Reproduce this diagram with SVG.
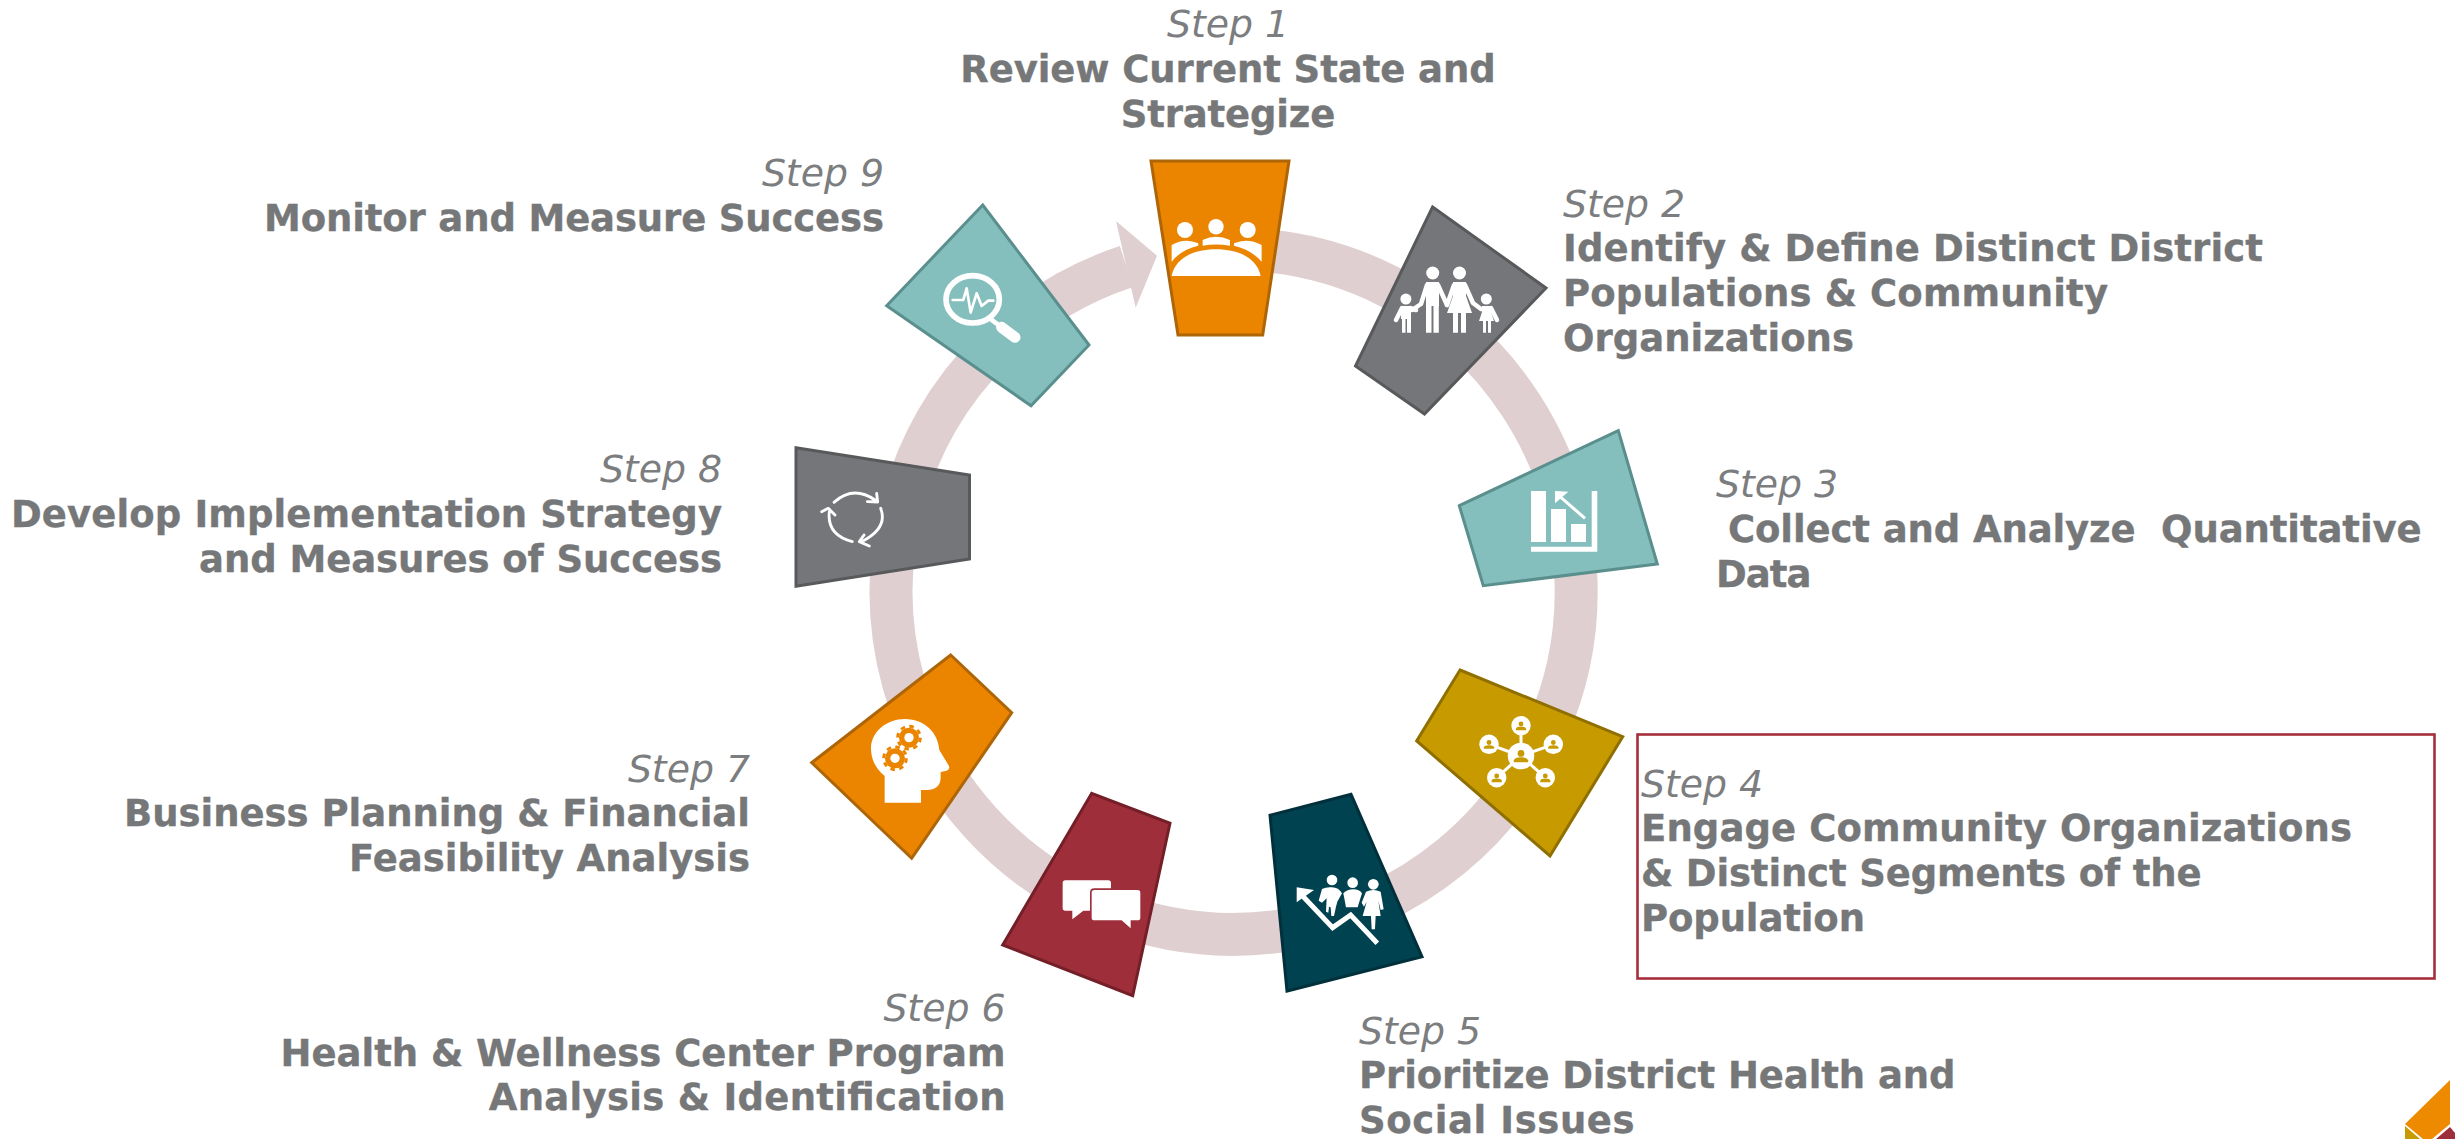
<svg xmlns="http://www.w3.org/2000/svg" width="2455" height="1139" viewBox="0 0 2455 1139">
<style>
text{font-family:"DejaVu Sans","Verdana",sans-serif;font-size:37px;fill:#767779}
.s{font-style:italic;font-weight:400;fill:#7C7D7F;font-size:37.8px}
.b{font-weight:700;stroke:#767779;stroke-width:.35}
.e{text-anchor:end}
.m{text-anchor:middle}
.n{stroke-width:3;stroke-linejoin:miter}
.or{fill:#EB8500;stroke:#AD6508}
.gy{fill:#757679;stroke:#58595B}
.te{fill:#84BFBE;stroke:#5A8F8E}
.go{fill:#C79A00;stroke:#8F6F00}
.dk{fill:#004250;stroke:#00303B}
.rd{fill:#9E2F3A;stroke:#741F28}
.w{fill:#fff;stroke:none}
.l{fill:none;stroke:#fff;stroke-linecap:round;stroke-linejoin:round}
.ls{fill:none;stroke:#fff;stroke-linecap:butt;stroke-linejoin:miter}
</style>
<defs>
<g id="per"><circle cx="0" cy="-6" r="8"/><path d="M-17 15V10Q-15 3 0 3Q15 3 17 10V15Z"/></g>
<g id="gear"><circle r="30" fill="#EB8500"/><circle r="34" fill="none" stroke="#EB8500" stroke-width="9" stroke-dasharray="13.5 13.2"/><circle r="14" fill="#fff"/></g>
</defs>
<g id="connectors">
<path d="M1234 249.3A342.5 342.5 0 1 1 1126.5 266.5" fill="none" stroke="#E0CFD0" stroke-width="43"/>
<polygon points="1116,221 1157,255.7 1135.7,307.7 1130.7,286 1121,243" fill="#E0CFD0"/>
</g>
<g id="node1">
<polygon class="n or" points="1151,161 1289,161 1262.7,335 1178,335"/>
<g class="w"><circle cx="1185" cy="230" r="8"/><circle cx="1216" cy="226.7" r="7.7"/><circle cx="1247.7" cy="230" r="8"/>
<g transform="translate(860 180) scale(.3333)"><path d="M935 245V195Q975 172 1015 190V197Q965 208 935 245Z"/><path d="M1028 197V180Q1068 160 1110 180V197Q1068 190 1028 197Z"/><path d="M1205 245V195Q1163 172 1122 190V197Q1172 208 1205 245Z"/><path d="M935 288C945 235 1000 208 1068 208C1136 208 1192 235 1202 288Z"/></g></g>
<text class="s m" x="1228" y="37">Step 1</text>
<text class="b m" x="1228" y="82" textLength="535.5">Review Current State and</text>
<text class="b m" x="1228" y="127" textLength="214.5">Strategize</text>
</g>
<g id="node2">
<polygon class="n gy" points="1432.6,207 1546,288 1424.5,414 1355.5,366"/>
<g class="w"><circle cx="1432.7" cy="273" r="6.5"/><circle cx="1459.5" cy="273" r="6.5"/><circle cx="1405.9" cy="299" r="5.5"/><circle cx="1486.3" cy="299" r="5.5"/>
<path d="M1426 282H1439V306H1438.8V332.7H1433.5V306H1431.5V332.7H1426Z"/>
<path d="M1453 282H1466V296L1472 313H1466V332.7H1461V313H1458V332.7H1453V313H1447L1453 296Z"/>
<path d="M1401 306H1411V332.7H1407V319H1405.5V332.7H1402V319H1401Z"/>
<path d="M1482 306H1491V312L1494 321H1491V332.7H1488V321H1486V332.7H1483V321H1479L1482 312Z"/></g>
<g class="l" stroke-width="4.5"><path d="M1427 285L1421 304L1412 310"/><path d="M1438 285L1447 305"/><path d="M1454 285L1447 305"/><path d="M1465 285L1473 303L1481 309"/><path d="M1402 308L1396 320"/><path d="M1410 308L1416 310"/><path d="M1491 308L1497 320"/></g>
<text class="s" x="1563" y="217">Step 2</text>
<text class="b" x="1563" y="261" textLength="700">Identify &amp; Define Distinct District</text>
<text class="b" x="1563" y="306" textLength="545">Populations &amp; Community</text>
<text class="b" x="1563" y="351" textLength="291">Organizations</text>
</g>
<g id="node3">
<polygon class="n te" points="1459.3,505.7 1618.3,430.7 1657.3,564 1483.3,585.7"/>
<g class="w"><rect x="1531" y="491" width="15" height="51"/><rect x="1551" y="509" width="15" height="33"/><rect x="1571" y="524" width="15" height="18"/><path d="M1591.7 491H1597.3V551.7H1531V546.7H1591.7Z"/><polygon points="1555,491 1568.3,491.7 1555,503.3"/></g>
<path class="ls" stroke-width="3" d="M1585 518.3L1560 496.7"/>
<text class="s" x="1716" y="497">Step 3</text>
<text class="b" x="1728" y="542" xml:space="preserve" textLength="693.6">Collect and Analyze  Quantitative</text>
<text class="b" x="1716" y="587" textLength="95.5">Data</text>
</g>
<g id="node4">
<polygon class="n go" points="1460,670 1622.7,736.7 1550,856 1416.7,741"/>
<g class="l" stroke-width="3"><path d="M1521 756L1521 725.7M1521 756L1553.3 744.3M1521 756L1489 744.3M1521 756L1496.7 777.7M1521 756L1545.3 777.7"/></g>
<g class="w"><circle cx="1521" cy="756" r="13.3"/><circle cx="1521" cy="725.7" r="9.7"/><circle cx="1553.3" cy="744.3" r="9.7"/><circle cx="1489" cy="744.3" r="9.7"/><circle cx="1496.7" cy="777.7" r="9.7"/><circle cx="1545.3" cy="777.7" r="9.7"/></g>
<g fill="#C79A00"><use href="#per" transform="translate(1521 756) scale(.42)"/><use href="#per" transform="translate(1521 725.7) scale(.3)"/><use href="#per" transform="translate(1553.3 744.3) scale(.3)"/><use href="#per" transform="translate(1489 744.3) scale(.3)"/><use href="#per" transform="translate(1496.7 777.7) scale(.3)"/><use href="#per" transform="translate(1545.3 777.7) scale(.3)"/></g>
<rect x="1637.5" y="734.5" width="797" height="244" fill="none" stroke="#A62F3C" stroke-width="2.6"/>
<text class="s" x="1641" y="797">Step 4</text>
<text class="b" x="1641" y="841" textLength="711">Engage Community Organizations</text>
<text class="b" x="1641" y="886" textLength="560.5">&amp; Distinct Segments of the</text>
<text class="b" x="1641" y="931" textLength="224">Population</text>
</g>
<g id="node5">
<polygon class="n dk" points="1270,815.3 1351,794.3 1422,956.7 1287,991"/>
<g transform="translate(1260 790) scale(.3333)">
<g class="w"><circle cx="216" cy="270" r="16"/><circle cx="278" cy="278" r="16"/><circle cx="340" cy="283" r="16"/>
<path d="M186 297Q200 290 216 292Q236 292 246 310L232 335L228 350L222 378H214L212 352L207 350L205 368L198 365L200 325L186 338L176 332Z"/>
<path d="M250 310Q262 298 280 298Q298 298 306 310L293 352H258Z"/>
<path d="M318 305Q340 295 362 305L371 358L362 360L355 332L362 378H347L345 418H335L333 378H308L320 335L312 350L305 338Z"/>
<polygon points="110,292 162,300 110,337"/></g>
<polyline class="ls" stroke-width="15" points="352,460 272,375 218,413 128,318"/>
</g>
<text class="s" x="1359" y="1044">Step 5</text>
<text class="b" x="1359" y="1088" textLength="596.5">Prioritize District Health and</text>
<text class="b" x="1359" y="1133" textLength="275.6">Social Issues</text>
</g>
<g id="node6">
<polygon class="n rd" points="1091.7,793.3 1170,823.3 1132.7,995.7 1002.7,945"/>
<g transform="translate(1000 790) scale(.3333)">
<path class="w" d="M196 271H325Q333 271 333 279V362H250L217 388V362H196Q188 362 188 354V279Q188 271 196 271Z"/>
<path d="M283 300H413Q421 300 421 308V383Q421 391 413 391H392V415L365 391H283Q275 391 275 383V308Q275 300 283 300Z" fill="#fff" stroke="#9E2F3A" stroke-width="10" paint-order="stroke"/>
</g>
<text class="s e" x="1005.5" y="1021">Step 6</text>
<text class="b e" x="1005.5" y="1066" textLength="725">Health &amp; Wellness Center Program</text>
<text class="b e" x="1005.5" y="1110" textLength="516.7">Analysis &amp; Identification</text>
</g>
<g id="node7">
<polygon class="n or" points="950.7,655 1011.7,712.7 911.7,858.3 811.7,762.7"/>
<g transform="translate(810 650) scale(.3333)">
<path class="w" d="M224 458V378C195 355 183 325 183 295C183 245 230 207 285 207C345 207 385 250 388 300L417 348Q420 358 410 362L392 366V385Q390 420 350 420H333V458Z"/>
<use href="#gear" x="297" y="263"/><use href="#gear" x="255" y="325"/>
</g>
<text class="s e" x="750" y="782">Step 7</text>
<text class="b e" x="750" y="826" textLength="626">Business Planning &amp; Financial</text>
<text class="b e" x="750" y="871" textLength="401">Feasibility Analysis</text>
</g>
<g id="node8">
<polygon class="n gy" points="796,447.8 969.5,475 969.5,559 796,586.3"/>
<g transform="translate(790 440) scale(.3333)" class="l" stroke-width="8.5"><path d="M132 187Q190 135 255 180M232 185L263 186L260 160"/><path d="M272 205Q295 265 215 305M238 318L208 305L222 285"/><path d="M187 305Q110 285 118 215M95 215L115 205L135 225"/></g>
<text class="s e" x="722" y="482">Step 8</text>
<text class="b e" x="722" y="527" textLength="711">Develop Implementation Strategy</text>
<text class="b e" x="722" y="572" textLength="523">and Measures of Success</text>
</g>
<g id="node9">
<polygon class="n te" points="982.7,205 1089,345 1031,405.7 886.7,305.7"/>
<g transform="translate(860 180) scale(.3333)"><ellipse class="l" cx="338" cy="358" rx="80" ry="71" stroke-width="17"/><path class="l" stroke-width="8" d="M278 360H310L320 325L332 398L350 340L365 378L385 362H400"/><path class="l" stroke-width="33" d="M425 442L465 472"/><path class="l" stroke-width="14" d="M395 420L425 442"/></g>
<text class="s e" x="884" y="186">Step 9</text>
<text class="b e" x="884" y="231" textLength="620">Monitor and Measure Success</text>
</g>
<g id="corner">
<polygon points="2450,1080 2405,1124 2423,1139 2432,1139 2450,1124" fill="#EE8A00"/>
<polygon points="2405,1126 2405,1139 2420,1139" fill="#C79A00"/>
<polygon points="2450,1127 2436,1139 2455,1139 2455,1133" fill="#9E2F3A"/>
</g>
</svg>
